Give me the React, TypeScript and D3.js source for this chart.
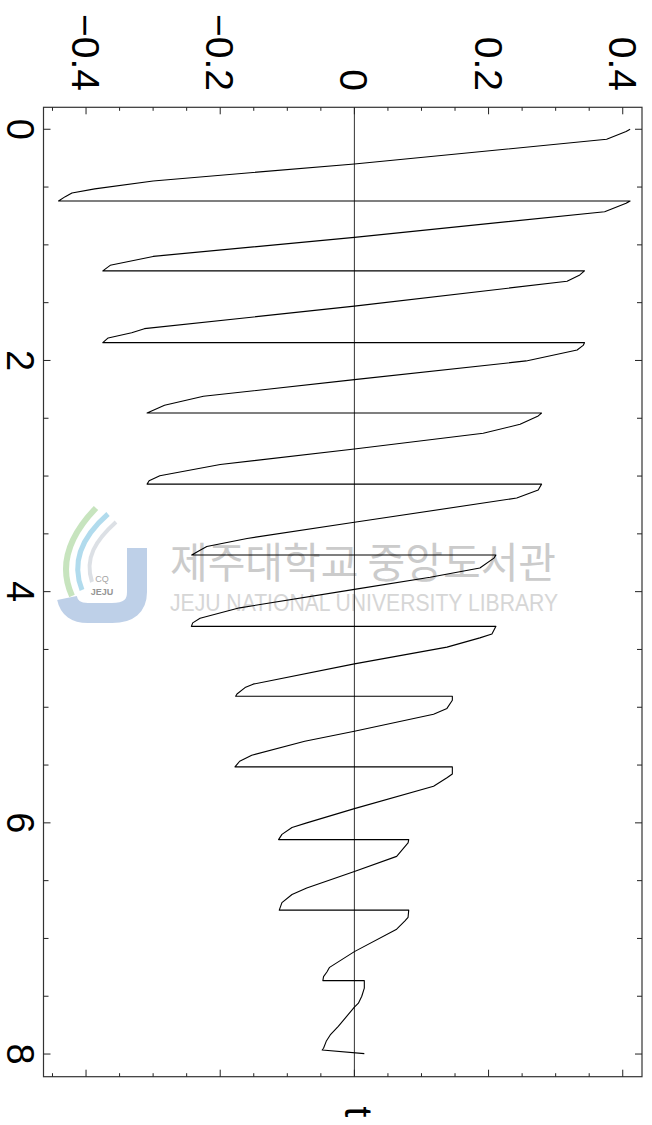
import React from "react";
import * as d3 from "d3";

// Response time history: time t and normalised response value
const timeValues = [
  0.0, 0.02, 0.087, 0.3, 0.447, 0.516, 0.551, 0.583, 0.62,
  0.62, 0.64, 0.713, 0.935, 1.1, 1.177, 1.225,
  1.225, 1.26, 1.315, 1.53, 1.725, 1.76, 1.805, 1.846,
  1.846, 1.87, 1.91, 2.004, 2.166, 2.31, 2.388, 2.455,
  2.455, 2.48, 2.552, 2.63, 2.766, 2.9, 2.997, 3.04, 3.07,
  3.07, 3.12, 3.19, 3.4, 3.54, 3.61, 3.654, 3.683,
  3.683, 3.71, 3.795, 3.875, 3.98, 4.14, 4.23, 4.27, 4.3,
  4.3, 4.366, 4.4, 4.48, 4.625, 4.8, 4.83, 4.885, 4.905,
  4.905, 4.94, 5.01, 5.06, 5.208, 5.294, 5.415, 5.467, 5.516,
  5.516, 5.577, 5.61, 5.683, 5.877, 6.0, 6.04, 6.1, 6.145,
  6.145, 6.174, 6.29, 6.42, 6.563, 6.62, 6.69, 6.755,
  6.755, 6.817, 6.85, 6.92, 7.114, 7.25, 7.29, 7.33, 7.365,
  7.365, 7.43, 7.5, 7.56, 7.595, 7.76, 7.835, 7.89, 7.95, 7.965,
  7.996,
];

const responseValues = [
  0.411, 0.405, 0.376, 0.0, -0.3, -0.387, -0.421, -0.431, -0.441,
  0.411, 0.405, 0.373, 0.0, -0.3, -0.364, -0.375,
  0.343, 0.336, 0.317, 0.0, -0.313, -0.332, -0.367, -0.375,
  0.343, 0.341, 0.332, 0.256, 0.0, -0.225, -0.283, -0.309,
  0.279, 0.274, 0.247, 0.192, 0.0, -0.2, -0.29, -0.306, -0.309,
  0.279, 0.274, 0.242, 0.0, -0.16, -0.22, -0.234, -0.2425,
  0.211, 0.208, 0.187, 0.113, 0.0, -0.171, -0.23, -0.241, -0.243,
  0.211, 0.205, 0.187, 0.138, 0.0, -0.151, -0.163, -0.175, -0.177,
  0.146, 0.146, 0.138, 0.118, 0.0, -0.074, -0.153, -0.171, -0.178,
  0.146, 0.146, 0.138, 0.118, 0.0, -0.071, -0.093, -0.108, -0.113,
  0.081, 0.08, 0.063, 0.0, -0.071, -0.093, -0.108, -0.112,
  0.081, 0.08, 0.075, 0.063, 0.0, -0.037, -0.041, -0.046, -0.047,
  0.0148, 0.0148, 0.011, 0.006, 0.0, -0.024, -0.036, -0.042, -0.046, -0.048,
  0.0148,
];

const valueTicks = [-0.4, -0.2, 0, 0.2, 0.4];
const valueTickLabels = ["\u22120.4", "\u22120.2", "0", "0.2", "0.4"];
const timeTicks = [0, 2, 4, 6, 8];
const timeTickLabels = ["0", "2", "4", "6", "8"];
const axisTitle = "t";

const W = 652;
const H = 1125;
const frame = { left: 43.5, right: 642, top: 107.3, bottom: 1076.7 };

const FONT = "'Liberation Sans', Arial, sans-serif";

export default function App() {
  const x = d3.scaleLinear().domain([-0.4634, 0.4287]).range([frame.left, frame.right]);
  const y = d3.scaleLinear().domain([-0.19, 8.196]).range([frame.top, frame.bottom]);

  const pts: [number, number][] = timeValues.map((t, i) => [t, responseValues[i]]);
  const line = d3
    .line<[number, number]>()
    .x((d) => x(d[1]))
    .y((d) => y(d[0]));

  // minor ticks every 0.05 on the value axis, every 0.5 on the time axis
  const vMinor = d3.range(-9, 9).map((k) => ({ v: k * 0.05, major: k % 4 === 0 }));
  const tMinor = d3.range(0, 17).map((k) => ({ t: k * 0.5, major: k % 4 === 0 }));

  const tickColor = "#222";

  return (
    <svg
      width={W}
      height={H}
      style={{ position: "absolute", left: 0, top: 0, background: "#fff" }}
    >
      <rect x={0} y={0} width={W} height={H} fill="#fff" />

      {/* library watermark */}
      <g opacity={0.9}>
        <path
          d="M137,548 L137,592 Q137,613 112,613 L88,613 Q70,613 67,598"
          fill="none"
          stroke="#b7cbe6"
          strokeWidth={20}
        />
        <path d="M72,596 C58,565 70,535 96,508" fill="none" stroke="#c2e2b8" strokeWidth={6} />
        <path d="M82,590 C70,560 84,535 108,514" fill="none" stroke="#a9d8ec" strokeWidth={5} />
        <path d="M92,582 C84,558 96,540 116,522" fill="none" stroke="#d9dde3" strokeWidth={4} />
        <text x={102} y={582} fontFamily={FONT} fontSize={9} fill="#9a9a9a" textAnchor="middle">
          CQ
        </text>
        <text x={102} y={595} fontFamily={FONT} fontSize={9} fontWeight="bold" fill="#8a8a8a" textAnchor="middle">
          JEJU
        </text>
        <text
          x={170}
          y={578}
          fontFamily="'Noto Sans CJK KR', sans-serif"
          fontSize={42}
          fill="#c6c6c6"
          textLength={386}
          lengthAdjust="spacingAndGlyphs"
        >
          제주대학교 중앙도서관
        </text>
        <text
          x={170}
          y={611}
          fontFamily={FONT}
          fontSize={23}
          fill="#d2d2d2"
          textLength={388}
          lengthAdjust="spacingAndGlyphs"
        >
          JEJU NATIONAL UNIVERSITY LIBRARY
        </text>
      </g>

      {/* zero reference line */}
      <line x1={x(0)} x2={x(0)} y1={frame.top} y2={frame.bottom} stroke="#333" strokeWidth={1} />

      {/* response curve */}
      <path d={line(pts) || ""} fill="none" stroke="#000" strokeWidth={1.1} strokeLinejoin="round" />

      {/* frame */}
      <rect
        x={frame.left}
        y={frame.top}
        width={frame.right - frame.left}
        height={frame.bottom - frame.top}
        fill="none"
        stroke="#333"
        strokeWidth={1.2}
      />

      {/* value-axis ticks, top and bottom, pointing inward */}
      {vMinor.map((d, i) => {
        const len = d.major ? 7 : 3.5;
        const px = x(d.v);
        return (
          <g key={"v" + i}>
            <line x1={px} x2={px} y1={frame.top} y2={frame.top + len} stroke={tickColor} strokeWidth={1} />
            <line x1={px} x2={px} y1={frame.bottom} y2={frame.bottom - len} stroke={tickColor} strokeWidth={1} />
          </g>
        );
      })}

      {/* time-axis ticks, left and right, pointing inward */}
      {tMinor.map((d, i) => {
        const len = d.major ? 7 : 5;
        const py = y(d.t);
        return (
          <g key={"t" + i}>
            <line x1={frame.left} x2={frame.left + len} y1={py} y2={py} stroke={tickColor} strokeWidth={1} />
            <line x1={frame.right} x2={frame.right - len} y1={py} y2={py} stroke={tickColor} strokeWidth={1} />
          </g>
        );
      })}

      {/* value tick labels, rotated */}
      {valueTicks.map((v, i) => (
        <text
          key={"vl" + i}
          transform={`translate(${x(v)},91) rotate(90)`}
          dy="0.36em"
          textAnchor="end"
          fontFamily={FONT}
          fontSize={39}
          fill="#000"
        >
          {valueTickLabels[i]}
        </text>
      ))}

      {/* time tick labels, rotated */}
      {timeTicks.map((t, i) => (
        <text
          key={"tl" + i}
          transform={`translate(21,${y(t)}) rotate(90)`}
          dy="0.36em"
          textAnchor="middle"
          fontFamily={FONT}
          fontSize={38}
          fill="#000"
        >
          {timeTickLabels[i]}
        </text>
      ))}

      {/* axis title */}
      <text
        transform={`translate(359,1112) rotate(90)`}
        dy="0.36em"
        textAnchor="middle"
        fontFamily={FONT}
        fontSize={39}
        fill="#000"
      >
        {axisTitle}
      </text>
    </svg>
  );
}
